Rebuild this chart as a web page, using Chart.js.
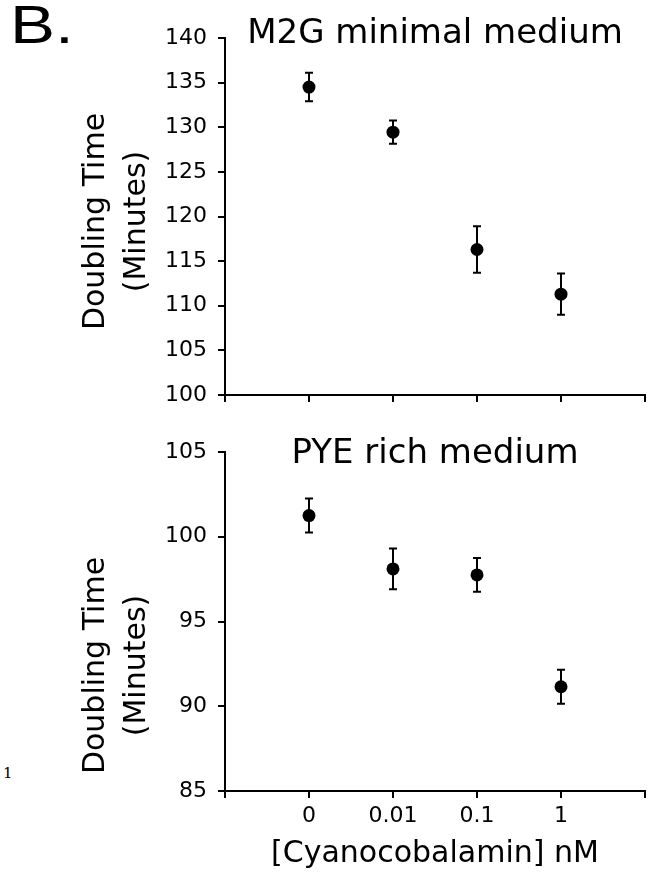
<!DOCTYPE html>
<html>
<head>
<meta charset="utf-8">
<script src="https://cdn.jsdelivr.net/npm/chart.js@4"></script>
<style>
  body { margin: 0; background: #fff; }
  #wrap { position: relative; width: 653px; height: 875px; overflow: hidden; }
  canvas { position: absolute; left: 0; }
  .label { position: absolute; color: #000; white-space: nowrap; line-height: 1; }
</style>
</head>
<body>
<div id="wrap">
  <div class="label" style="left:10px; top:-7px; font:54px 'Liberation Sans', Arial, sans-serif; transform:scaleX(1.25); transform-origin:0 0;">B.</div>
  <div class="label" style="left:3px; top:764px; font:15px 'DejaVu Serif', serif; color:#000;">1</div>
  <canvas id="m2gChart" width="653" height="420" style="top:0"></canvas>
  <canvas id="pyeChart" width="653" height="455" style="top:420px"></canvas>
</div>
<script>
// concentrations on the x axis
const doses = ['0', '0.01', '0.1', '1'];

// M2G minimal medium
const m2gTime = [134.5, 129.45, 116.3, 111.3];
const m2gErr = [1.6, 1.3, 2.6, 2.3];
const m2gYTicks = [100, 105, 110, 115, 120, 125, 130, 135, 140];

// PYE rich medium
const pyeTime = [101.25, 98.1, 97.75, 91.15];
const pyeErr = [1.0, 1.2, 1.0, 1.0];
const pyeYTicks = [85, 90, 95, 100, 105];

const axisFont = { family: 'DejaVu Sans', size: 22 };

// error bars, drawn through the chart scales
const errorBars = {
    id: 'errorBars',
    beforeDatasetsDraw(chart, args, opts) {
        const { ctx, scales } = chart;
        const vals = chart.data.datasets[0].data;
        ctx.save();
        ctx.strokeStyle = '#000';
        ctx.lineWidth = 2;
        vals.forEach((p, i) => {
            const x = scales.x.getPixelForValue(p.x);
            const yTop = scales.y.getPixelForValue(p.y + opts.err[i]);
            const yBot = scales.y.getPixelForValue(p.y - opts.err[i]);
            ctx.beginPath();
            ctx.moveTo(x, yTop); ctx.lineTo(x, yBot);
            ctx.moveTo(x - 4, yTop); ctx.lineTo(x + 4, yTop);
            ctx.moveTo(x - 4, yBot); ctx.lineTo(x + 4, yBot);
            ctx.stroke();
        });
        ctx.restore();
    }
};

// two-line rotated y title next to the axis
const sideTitle = {
    id: 'sideTitle',
    afterDraw(chart, args, opts) {
        const { ctx, chartArea } = chart;
        const cy = (chartArea.top + chartArea.bottom) / 2 + opts.shift;
        ctx.save();
        ctx.fillStyle = '#000';
        ctx.font = '30px "DejaVu Sans"';
        ctx.textAlign = 'center';
        ctx.textBaseline = 'middle';
        opts.lines.forEach((t, i) => {
            ctx.save();
            ctx.translate(opts.x + i * opts.gap, cy);
            ctx.rotate(-Math.PI / 2);
            ctx.fillText(t, 0, 0);
            ctx.restore();
        });
        ctx.restore();
    }
};

function makeChart(id, title, times, errs, yTicks, opt) {
    const ctx = document.getElementById(id).getContext('2d');
    return new Chart(ctx, {
        type: 'scatter',
        data: {
            datasets: [{
                data: times.map((v, i) => ({ x: i, y: v })),
                backgroundColor: '#000',
                borderColor: '#000',
                pointRadius: 6.5,
                pointBorderWidth: 0
            }]
        },
        options: {
            responsive: false,
            animation: false,
            layout: { padding: { top: 0, right: 8, left: 0, bottom: 0 } },
            plugins: {
                legend: { display: false },
                tooltip: { enabled: false },
                title: {
                    display: true,
                    text: title,
                    fullSize: false,
                    color: '#000',
                    font: { family: 'DejaVu Sans', size: 34, weight: 'normal' },
                    padding: { top: 14, bottom: opt.titleBottom }
                },
                errorBars: { err: errs },
                sideTitle: { lines: ['Doubling Time', '(Minutes)'], x: 96, gap: 41, shift: opt.titleShift }
            },
            scales: {
                x: {
                    type: 'linear',
                    min: -1,
                    max: 4,
                    afterFit: s => { s.height = opt.xHeight; },
                    grid: { drawOnChartArea: false, color: '#000', lineWidth: 2, tickLength: 7 },
                    border: { color: '#000', width: 2 },
                    ticks: {
                        display: opt.showX,
                        stepSize: 1,
                        autoSkip: false,
                        maxRotation: 0,
                        padding: 5,
                        color: '#000',
                        font: axisFont,
                        callback: v => doses[v] ?? ''
                    },
                    title: {
                        display: opt.showX,
                        text: '[Cyanocobalamin] nM',
                        color: '#000',
                        font: { family: 'DejaVu Sans', size: 30 },
                        padding: { top: 0, bottom: 3 }
                    }
                },
                y: {
                    min: yTicks[0],
                    max: yTicks[yTicks.length - 1],
                    afterFit: s => { s.width = 225; },
                    grid: { drawOnChartArea: false, color: '#000', lineWidth: 2, tickLength: 7 },
                    border: { color: '#000', width: 2 },
                    ticks: { stepSize: 5, padding: 11, color: '#000', font: axisFont }
                }
            }
        },
        plugins: [errorBars, sideTitle]
    });
}

makeChart('m2gChart', 'M2G minimal medium', m2gTime, m2gErr, m2gYTicks,
    { showX: false, xHeight: 25, titleBottom: -16.8, titleShift: 5 });
makeChart('pyeChart', 'PYE rich medium', pyeTime, pyeErr, pyeYTicks,
    { showX: true, xHeight: 84, titleBottom: -22.8, titleShift: 44 });
</script>
</body>
</html>
